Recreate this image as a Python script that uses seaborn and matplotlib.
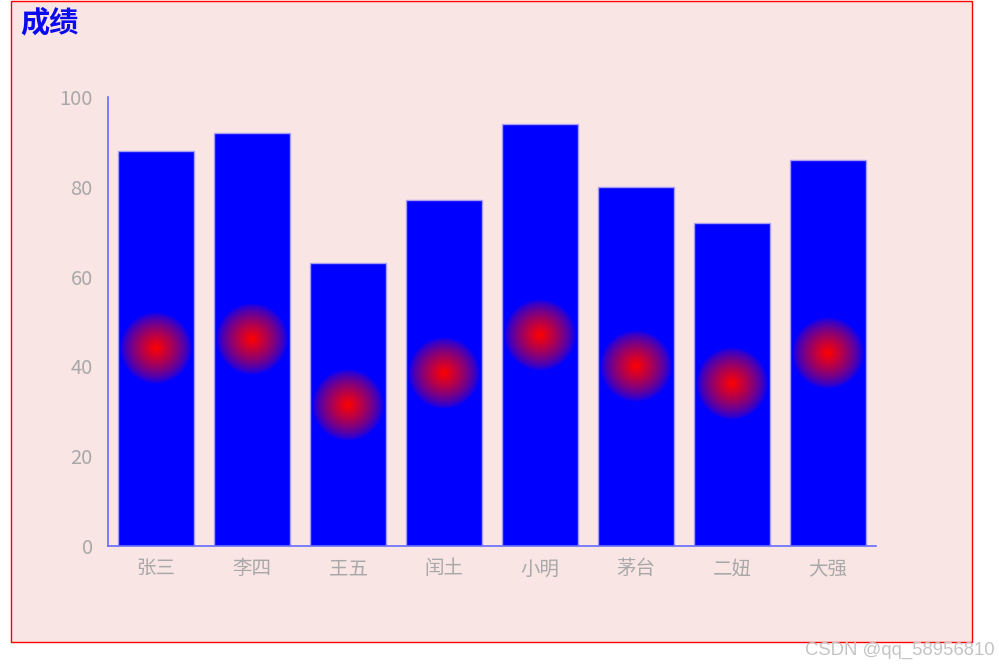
import numpy as np
import seaborn as sns
import matplotlib as mpl
import matplotlib.pyplot as plt
from matplotlib.patches import Rectangle

sns.set_style("white")
plt.rcParams['font.family'] = ['Noto Sans CJK SC', 'DejaVu Sans']

# data
names = ["张三", "李四", "王五", "闰土", "小明", "茅台", "二妞", "大强"]
scores = [88, 92, 63, 77, 94, 80, 72, 86]
y_ticks = [0, 20, 40, 60, 80, 100]
title = "成绩"
watermark = "CSDN @qq_58956810"

W, H = 999, 667
fig = plt.figure(figsize=(W / 100, H / 100), dpi=100, facecolor="white")

# pink panel with red border
fig.patches.append(Rectangle((11 / W, 1 - 642 / H), (972 - 11) / W, (642 - 1) / H,
                             transform=fig.transFigure, facecolor="#f9e5e4",
                             edgecolor="red", linewidth=1, zorder=-1))

ax = fig.add_axes([108 / W, 1 - 546 / H, (876 - 108) / W, (546 - 97) / H])
ax.set_facecolor("none")
ax.set_zorder(1)

sns.barplot(x=names, y=scores, color="#0000ff", saturation=1, width=0.79,
            edgecolor="#a99cf5", linewidth=1, ax=ax, zorder=2)

# radial red glow at half the bar height
R = 36  # px
px_x = (876 - 108) / len(names)
px_y = (546 - 97) / 100
g = np.linspace(-1, 1, 121)
gx, gy = np.meshgrid(g, g)
r = np.sqrt(gx ** 2 + gy ** 2)
img = np.zeros((121, 121, 4))
img[..., 0] = 1.0
img[..., 3] = np.clip(1 - r, 0, 1) ** 0.7
for i, v in enumerate(scores):
    cy = v / 2
    ax.imshow(img, extent=(i - R / px_x, i + R / px_x, cy - R / px_y, cy + R / px_y),
              aspect="auto", zorder=3, interpolation="bilinear")

ax.set_xlim(-0.5, len(names) - 0.5)
ax.set_ylim(0, 100)
ax.set_yticks(y_ticks)
ax.set_xlabel("")
ax.set_ylabel("")
for s in ["top", "right"]:
    ax.spines[s].set_visible(False)
for s in ["left", "bottom"]:
    ax.spines[s].set_color("#6a6aff")
    ax.spines[s].set_linewidth(1.2)
    ax.spines[s].set_zorder(4)
ax.tick_params(axis="y", length=0, pad=11, labelsize=14.5, labelcolor="#a8a8a8")
ax.tick_params(axis="x", length=0, pad=9, labelsize=14, labelcolor="#a8a8a8")

fig.text(20 / W, 1 - 22 / H, title, fontsize=21, fontweight="bold", color="#0a0af0",
         va="center", ha="left")
fig.text(995 / W, 1 - 650 / H, watermark, fontsize=13.3, color="#c4c4c4",
         family="Liberation Sans", ha="right", va="center")

fig.savefig("out.png", dpi=100)
